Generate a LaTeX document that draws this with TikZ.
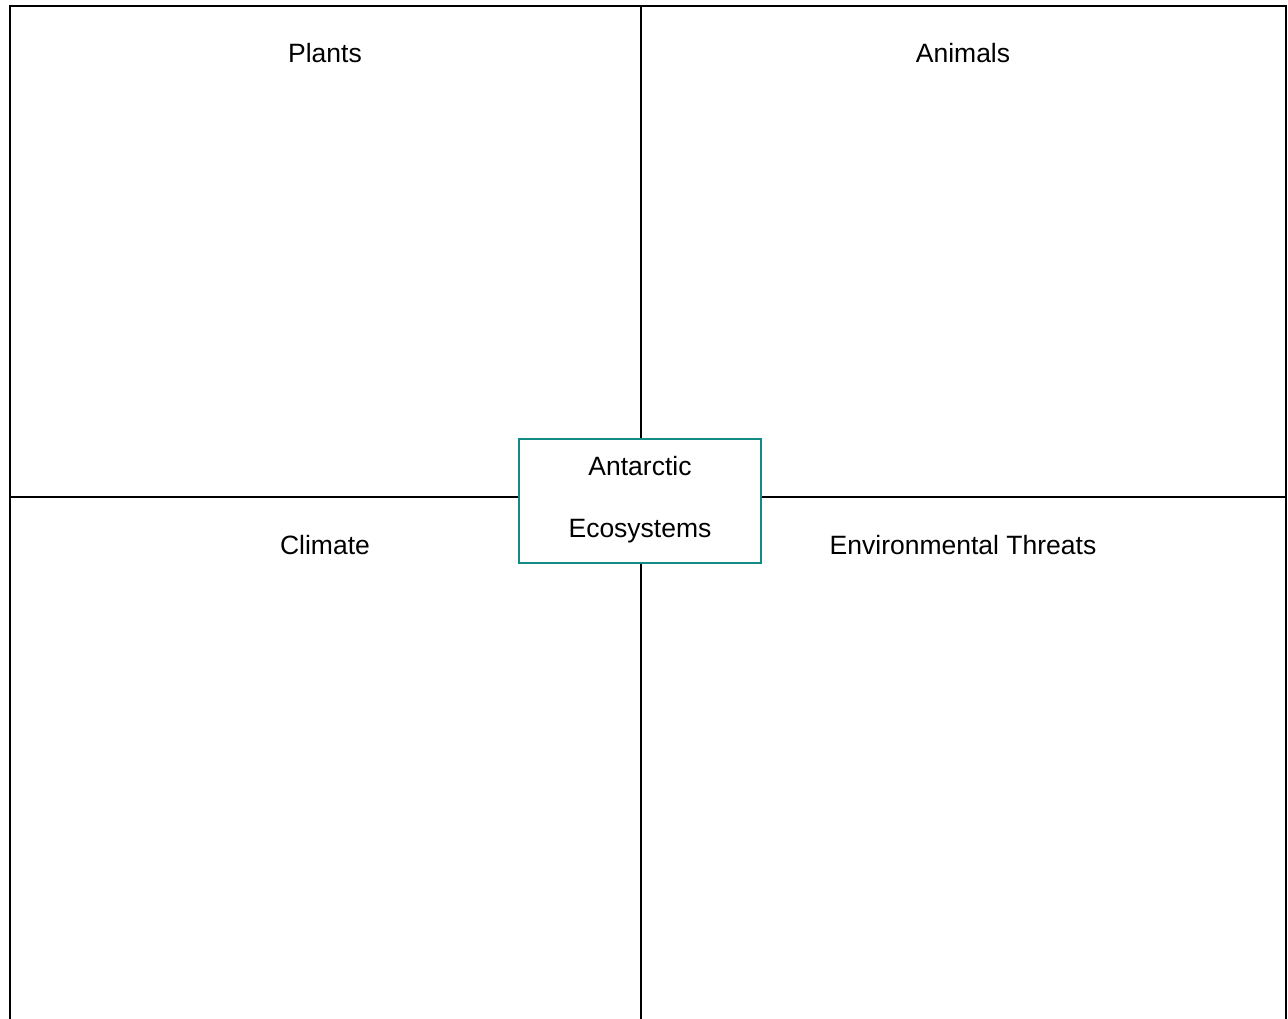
\documentclass[tikz,border=0pt]{standalone}
\usepackage{fontspec}
\setmainfont{Liberation Sans}

\def\L{10}
\def\R{1286}
\def\T{6}
\def\B{1019}
\def\MX{641}
\def\MY{497}

\begin{document}
\begin{tikzpicture}[x=1pt,y=-1pt]
    \tikzset{
      frame/.style={draw=black,line width=2pt},
      title/.style={font=\fontsize{26.5}{30}\selectfont,inner sep=0pt},
      hub/.style={draw={rgb,255:red,20;green,138;blue,132},line width=2pt,fill=white,
        minimum width=242pt,minimum height=124pt}
    }
    \useasboundingbox (0,0) rectangle (1288,1019);

    \coordinate (tl) at (\L,\T);
    \coordinate (tr) at (\R,\T);
    \coordinate (bl) at (\L,\B);
    \coordinate (br) at (\R,\B);
    \coordinate (tm) at (\MX,\T);
    \coordinate (bm) at (\MX,\B);
    \coordinate (lm) at (\L,\MY);
    \coordinate (rm) at (\R,\MY);

    \draw[frame] (bl) -- (tl) -- (tr) -- (br);
    \draw[frame] (tm) -- (bm);
    \draw[frame] (lm) -- (rm);

    \node[title] (plants) at (325,53) {Plants};
    \node[title] (animals) at (963,53) {Animals};
    \node[title] (climate) at (325,545) {Climate};
    \node[title] (threats) at (963,545) {Environmental Threats};

    \node[hub] (eco) at (640,501) {};
    \node[font=\fontsize{26.5}{62}\selectfont,align=center,inner sep=0pt] (ecotext) at (640,500) {Antarctic\\Ecosystems};
  \end{tikzpicture}
\end{document}
